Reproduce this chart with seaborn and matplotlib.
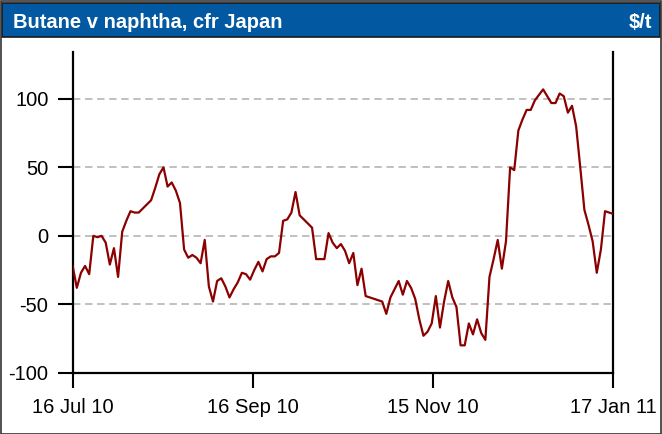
import numpy as np
import pandas as pd
import matplotlib
matplotlib.use('Agg')
import matplotlib.pyplot as plt
from matplotlib.patches import Rectangle
import seaborn as sns

sns.set_theme(style='white')
plt.rcParams['font.family'] = ['Liberation Sans', 'DejaVu Sans']
plt.rcParams['axes.unicode_minus'] = False

# Butane minus naphtha spread, cfr Japan, $/t (one value per trading day)
spread = [
    -22, -38, -27, -22, -28, 0, -1, 0, -5, -21,
    -9, -30, 3, 11, 18, 17, 17, 20, 23, 26,
    35, 45, 50, 36, 39, 33, 24, -10, -16, -14,
    -16, -20, -3, -37, -48, -33, -31, -37, -45, -39,
    -34, -27, -28, -32, -25, -19, -26, -17, -15, -15,
    -12.5, 11, 12, 17, 32, 15, 12, 9, 6, -17,
    -17, -17, 2, -5, -9, -6, -11, -20, -12.5, -36,
    -24, -44, -45, -46, -47, -48, -57, -45, -39, -33,
    -43, -33, -38, -46, -61, -73, -70, -64, -44, -67,
    -48, -33, -45, -52, -80, -80, -64, -72, -61, -71,
    -76, -30, -17, -3, -24, -4, 50, 48, 77, 85,
    92, 92, 99, 103, 107, 102, 97, 97, 104, 102,
    90, 95, 80, 50, 19, 8, -4, -27, -10, 18,
    17, 16,
]
tick_labels = ['16 Jul 10', '16 Sep 10', '15 Nov 10', '17 Jan 11']
y_ticks = [-100, -50, 0, 50, 100]
grid_levels = [-50, 0, 50, 100]

df = pd.DataFrame({'day': np.arange(len(spread)), 'spread': spread})

fig = plt.figure(figsize=(6.62, 4.34), dpi=100)
ax = fig.add_axes([0.1098, 0.1412, 0.8166, 0.7396])

for g in grid_levels:
    ax.axhline(g, color='#c0c0c0', lw=1.4, ls=(0, (3.8, 2.4)), zorder=1)

sns.lineplot(data=df, x='day', y='spread', color='#8b0000', lw=1.6, ax=ax, zorder=3)

ax.set_xlim(0, len(spread) - 1)
ax.set_ylim(-100, 134.5)
ax.set_xticks(np.linspace(0, len(spread) - 1, len(tick_labels)))
ax.set_xticklabels(tick_labels)
ax.set_yticks(y_ticks)
ax.set_xlabel('')
ax.set_ylabel('')
ax.tick_params(axis='both', direction='out', length=10.5, width=1.5, color='black',
               labelsize=14.5, labelcolor='black')
ax.tick_params(axis='x', pad=8, bottom=True)
ax.tick_params(axis='y', pad=7, left=True)
for side in ['left', 'right', 'bottom']:
    ax.spines[side].set_visible(True)
    ax.spines[side].set_color('black')
    ax.spines[side].set_linewidth(1.6)
ax.spines['top'].set_visible(False)

# header band
fig.patches.append(Rectangle((0.003, 0.915), 0.994, 0.078, transform=fig.transFigure,
                             facecolor='#0259a1', edgecolor='#1a1a1a', lw=1.2, zorder=0))
fig.text(0.019, 0.935, 'Butane v naphtha, cfr Japan', color='white', fontsize=14.5,
         fontweight='bold', va='baseline', ha='left')
fig.text(0.985, 0.935, '$/t', color='white', fontsize=14.5, fontweight='bold',
         va='baseline', ha='right')
# outer frame
fig.patches.append(Rectangle((0.001, 0.001), 0.998, 0.997, transform=fig.transFigure,
                             facecolor='none', edgecolor='#333333', lw=1.2))

fig.savefig('out.png', dpi=100)
